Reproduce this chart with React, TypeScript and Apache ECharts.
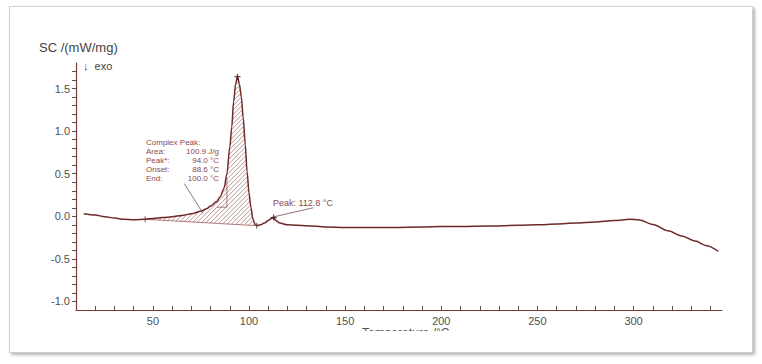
import React, { useEffect, useRef } from "react";
import * as echarts from "echarts";

// DSC curve (temperature in °C, signal in mW/mg)
const temps = [14, 20, 25, 30, 35, 40, 46, 50, 55, 60, 65, 70, 75, 78, 80, 83, 85, 87, 88.5, 90, 91, 92, 93, 94, 95, 96, 97, 98, 99, 100, 101, 102, 103, 104, 106, 108, 110, 111.5, 112.8, 114, 116, 120, 125, 130, 140, 150, 160, 175, 190, 200, 210, 225, 240, 250, 260, 270, 280, 290, 298, 303, 310, 318, 325, 332, 338, 344];
const dsc = [0.03, 0.015, -0.005, -0.02, -0.035, -0.04, -0.035, -0.025, -0.015, -0.005, 0.01, 0.03, 0.06, 0.09, 0.12, 0.17, 0.23, 0.33, 0.5, 0.81, 1.05, 1.35, 1.55, 1.64, 1.55, 1.4, 1.15, 0.85, 0.52, 0.27, 0.1, -0.03, -0.09, -0.11, -0.1, -0.08, -0.05, -0.025, -0.015, -0.05, -0.08, -0.1, -0.105, -0.11, -0.125, -0.13, -0.13, -0.13, -0.125, -0.12, -0.12, -0.115, -0.105, -0.1, -0.09, -0.08, -0.068, -0.05, -0.035, -0.042, -0.095, -0.17, -0.23, -0.29, -0.345, -0.41];

// integration range of the complex peak
const areaStart = [46, -0.035];
const areaEnd = [104, -0.11];

// marked points
const peakMain = [94, 1.64];
const peakSmall = [112.8, -0.015];

// tick labels
const xTickLabels = [50, 100, 150, 200, 250, 300];
const yTickLabels = [-1.0, -0.5, 0.0, 0.5, 1.0, 1.5];
const xMinorTicks = [20, 30, 40, 50, 60, 70, 80, 90, 100, 110, 120, 130, 140, 150, 160, 170, 180, 190, 200, 210, 220, 230, 240, 250, 260, 270, 280, 290, 300, 310, 320, 330, 340];
const yMinorTicks = [-1.0, -0.9, -0.8, -0.7, -0.6, -0.5, -0.4, -0.3, -0.2, -0.1, 0.0, 0.1, 0.2, 0.3, 0.4, 0.5, 0.6, 0.7, 0.8, 0.9, 1.0, 1.1, 1.2, 1.3, 1.4, 1.5, 1.6, 1.7];

// annotation texts
const complexLabels = ["Area:", "Peak*:", "Onset:", "End:"];
const complexValues = ["100.9 J/g", "94.0 °C", "88.6 °C", "100.0 °C"];

const AXIS = "#7a3c3c";
const CURVE = "#6e2a2a";
const ANNO = "#8b4a4a";
const LABEL = "#505050";
const FONT = "'Liberation Sans', Arial, sans-serif";

export default function App() {
  const ref = useRef<HTMLDivElement>(null);
  useEffect(() => {
    if (!ref.current) return;
    const chart = echarts.init(ref.current, null, { renderer: "svg" });
    const curveData = temps.map((t, i) => [t, dsc[i]]);

    const hatchRender = (params: any, api: any) => {
      const poly: number[][] = [];
      for (let i = 0; i < temps.length; i++) {
        if (temps[i] >= areaStart[0] && temps[i] <= areaEnd[0]) {
          poly.push(api.coord([temps[i], dsc[i]]));
        }
      }
      poly.push(api.coord(areaEnd));
      poly.push(api.coord(areaStart));
      const sums = poly.map((p) => p[0] + p[1]);
      const cMin = Math.min(...sums);
      const cMax = Math.max(...sums);
      const children: any[] = [];
      for (let c = cMin + 2; c < cMax; c += 4.5) {
        const xs: number[] = [];
        for (let k = 0; k < poly.length; k++) {
          const a = poly[k];
          const b = poly[(k + 1) % poly.length];
          const f1 = a[0] + a[1] - c;
          const f2 = b[0] + b[1] - c;
          if ((f1 < 0 && f2 >= 0) || (f1 >= 0 && f2 < 0)) {
            const s = f1 / (f1 - f2);
            xs.push(a[0] + s * (b[0] - a[0]));
          }
        }
        xs.sort((p, q) => p - q);
        for (let k = 0; k + 1 < xs.length; k += 2) {
          children.push({
            type: "line",
            shape: { x1: xs[k], y1: c - xs[k], x2: xs[k + 1], y2: c - xs[k + 1] },
            style: { stroke: "#9a6a6a", lineWidth: 0.7 },
          });
        }
      }
      return { type: "group", children };
    };

    const textStyle = (text: string, x: number, y: number, size: number, color: string, align = "left") => ({
      type: "text",
      x,
      y,
      z: 100,
      style: {
        text,
        fill: color,
        font: `${size}px ${FONT}`,
        textAlign: align,
        textVerticalAlign: "middle",
      },
    });

    const graphics: any[] = [
      textStyle("SC /(mW/mg)", 39, 47, 13, "#444", "left"),
      textStyle("↓  exo", 83, 66, 11, "#444", "left"),
      textStyle("Complex Peak:", 146, 142, 8, ANNO),
      textStyle("Peak: 112.8 °C", 273, 203, 9, ANNO),
      {
        type: "text",
        x: 362,
        y: 327,
        z: 100,
        style: { text: "Temperature /°C", fill: "#555", font: `12px ${FONT}`, textAlign: "left", textVerticalAlign: "top" },
      },
      { type: "rect", z: 101, shape: { x: 350, y: 331, width: 130, height: 16 }, style: { fill: "#fff" } },
    ];
    complexLabels.forEach((l, i) => {
      graphics.push(textStyle(l, 146, 151 + i * 9, 8, ANNO));
      graphics.push(textStyle(complexValues[i], 219, 151 + i * 9, 8, ANNO, "right"));
    });

    chart.setOption({
      animation: false,
      backgroundColor: "transparent",
      grid: { left: 76, right: 40, top: 63, bottom: 54 },
      xAxis: {
        type: "value",
        min: 10,
        max: 346,
        axisLine: { show: true, onZero: false, lineStyle: { color: AXIS, width: 1.2 } },
        axisTick: { show: true, inside: true, length: 4, customValues: xMinorTicks, lineStyle: { color: "#555" } },
        axisLabel: { customValues: xTickLabels, color: LABEL, fontSize: 11, fontFamily: FONT, margin: 5 },
        splitLine: { show: false },
      },
      yAxis: {
        type: "value",
        min: -1.1,
        max: 1.8,
        axisLine: { show: true, lineStyle: { color: AXIS, width: 1.2 } },
        axisTick: { show: true, inside: false, length: 4, customValues: yMinorTicks, lineStyle: { color: "#555" } },
        axisLabel: {
          customValues: yTickLabels,
          color: LABEL,
          fontSize: 11,
          fontFamily: FONT,
          margin: 6,
          formatter: (v: number) => v.toFixed(1),
        },
        splitLine: { show: false },
      },
      series: [
        {
          type: "custom",
          renderItem: hatchRender,
          data: [[areaStart[0], areaStart[1]]],
          z: 1,
          silent: true,
        },
        {
          type: "line",
          data: [areaStart, areaEnd],
          showSymbol: false,
          lineStyle: { color: "#a05a5a", width: 0.8 },
          z: 2,
          silent: true,
        },
        {
          type: "line",
          data: [[83.3, 0.107], [88.5, 0.107], [88.5, 0.45]],
          showSymbol: false,
          lineStyle: { color: "#a05a5a", width: 0.8 },
          z: 2,
          silent: true,
        },
        {
          type: "line",
          data: [[66.3, 0.385], [76.1, 0.033]],
          showSymbol: false,
          lineStyle: { color: "#7a5050", width: 0.8 },
          z: 2,
          silent: true,
        },
        {
          type: "line",
          data: [[112.1, -0.01], [133.4, 0.1]],
          showSymbol: false,
          lineStyle: { color: "#7a5050", width: 0.8 },
          z: 2,
          silent: true,
        },
        {
          type: "line",
          data: curveData,
          smooth: 0.3,
          smoothMonotone: "x",
          showSymbol: false,
          lineStyle: { color: CURVE, width: 1.5 },
          z: 3,
        },
        {
          type: "scatter",
          data: [peakMain, peakSmall],
          symbol: "path://M4,0L6,0L6,4L10,4L10,6L6,6L6,10L4,10L4,6L0,6L0,4L4,4Z",
          symbolSize: 6,
          itemStyle: { color: "#3a1a1a" },
          z: 4,
        },
        {
          type: "scatter",
          data: [areaStart, areaEnd],
          symbol: "rect",
          symbolSize: [1, 6],
          itemStyle: { color: "#5a2a2a" },
          z: 4,
        },
      ],
      graphic: graphics,
    });
    return () => chart.dispose();
  }, []);

  return (
    <div style={{ position: "absolute", left: 0, top: 0, width: 762, height: 364, background: "#fff" }}>
      <div
        style={{
          position: "absolute",
          left: 9,
          top: 6,
          width: 742,
          height: 345,
          border: "1px solid #cfcfcf",
          boxShadow: "2px 2px 3px rgba(0,0,0,0.3)",
          background: "#fff",
        }}
      />
      <div ref={ref} style={{ position: "absolute", left: 0, top: 0, width: 762, height: 364 }} />
    </div>
  );
}
